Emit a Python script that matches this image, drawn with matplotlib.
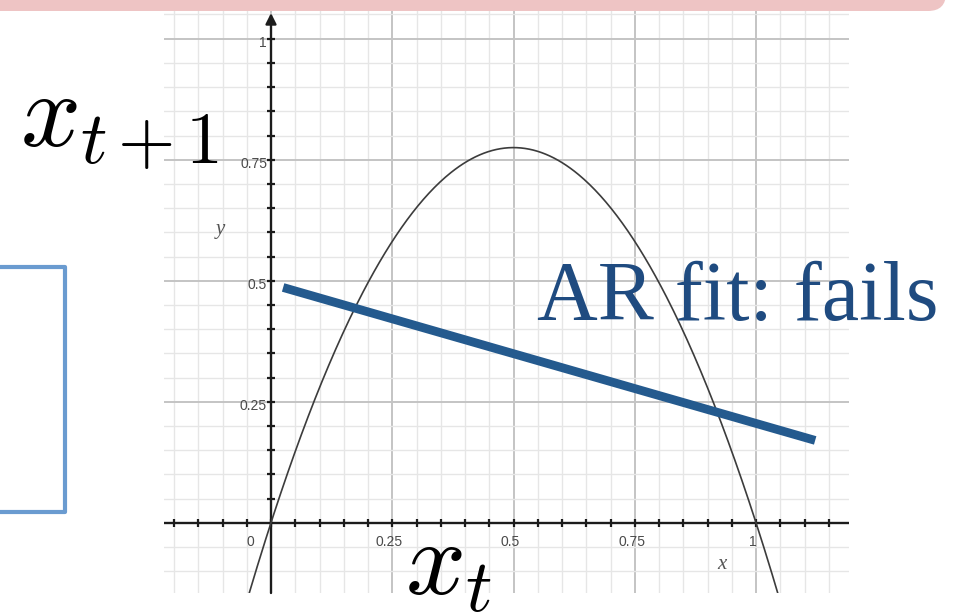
import numpy as np
import matplotlib
matplotlib.use("Agg")
import matplotlib.pyplot as plt
from matplotlib.patches import FancyBboxPatch, Rectangle
from matplotlib.ticker import MultipleLocator

plt.rcParams['mathtext.fontset'] = 'cm'

# ---- data -------------------------------------------------------------
r_logistic = 3.1                      # logistic map x_{t+1} = r x_t (1 - x_t)
ar_fit_x = [0.025, 1.122]             # linear AR(1) fit, end points
ar_fit_y = [0.486, 0.170]
x_tick_values = [-0.25, 0.0, 0.25, 0.5, 0.75, 1.0]
x_tick_labels = ['-0.25', '0', '0.25', '0.5', '0.75', '1']
y_tick_values = [0.25, 0.5, 0.75, 1.0]
y_tick_labels = ['0.25', '0.5', '0.75', '1']

# ---- figure -----------------------------------------------------------
W, H = 956, 616
fig = plt.figure(figsize=(W / 100, H / 100), dpi=100)

# decoration layer in pixel units
bg = fig.add_axes([0, 0, 1, 1])
bg.set_xlim(0, W)
bg.set_ylim(H, 0)
bg.axis('off')
bg.add_patch(FancyBboxPatch((-40, -40), 986, 51,
                            boxstyle="round,pad=0,rounding_size=18",
                            fc='#eec4c4', ec='none'))
bg.add_patch(Rectangle((-20, 267), 85, 245, fill=False,
                       ec='#6a9bd0', lw=3.0, joinstyle='round'))

# graph panel
x0_px, y0_px, ux, uy = 271, 522.7, 485, 484
left_px, right_px, top_px, bot_px = 164, 849, 11, 593
ax = fig.add_axes([left_px / W, 1 - bot_px / H,
                   (right_px - left_px) / W, (bot_px - top_px) / H])
ax.set_xlim((left_px - x0_px) / ux, (right_px - x0_px) / ux)
ax.set_ylim((y0_px - bot_px) / uy, (y0_px - top_px) / uy)
ax.set_facecolor('white')
for s in ax.spines.values():
    s.set_visible(False)
ax.xaxis.set_major_locator(MultipleLocator(0.25))
ax.yaxis.set_major_locator(MultipleLocator(0.25))
ax.xaxis.set_minor_locator(MultipleLocator(0.05))
ax.yaxis.set_minor_locator(MultipleLocator(0.05))
ax.grid(which='minor', color='#e6e6e6', lw=1.0)
ax.grid(which='major', color='#c4c4c4', lw=1.4)
ax.tick_params(which='both', length=0, labelbottom=False, labelleft=False)
ax.set_axisbelow(True)

xlo, xhi = ax.get_xlim()
ylo, yhi = ax.get_ylim()

# axes through the origin
ax.axhline(0, color='#1c1c1c', lw=1.7, zorder=3)
ax.annotate('', xy=(0, (y0_px - 13) / uy), xytext=(0, ylo),
            arrowprops=dict(arrowstyle='-|>', lw=1.7, color='#1c1c1c',
                            mutation_scale=16, shrinkA=0, shrinkB=0),
            zorder=3)

# small tick marks along the axes
minor = np.round(np.arange(-0.2, 1.2, 0.05), 2)
ax.plot(minor, np.zeros_like(minor), ls='none', marker='|', ms=6,
        mew=1.6, color='#1c1c1c', zorder=3)
yminor = minor[(minor > 0) & (minor <= 1.0)]
ax.plot(np.zeros_like(yminor), yminor, ls='none', marker='_', ms=6,
        mew=1.6, color='#1c1c1c', zorder=3)

# tick labels
for v, lbl in zip(x_tick_values, x_tick_labels):
    xv = -0.043 if v == 0 else v - 0.006
    ax.text(xv, -0.04, lbl, ha='center', va='center', fontsize=10,
            color='#4a4a4a', family='Liberation Sans', clip_on=True)
for v, lbl in zip(y_tick_values, y_tick_labels):
    ax.text(-0.008, v - 0.008, lbl, ha='right', va='center', fontsize=10,
            color='#4a4a4a', family='Liberation Sans')
ax.text(-0.105, 0.605, 'y', fontsize=15, style='italic',
        family='Liberation Serif', color='#555555', ha='center', va='center')
ax.text(0.93, -0.087, 'x', fontsize=15, style='italic',
        family='Liberation Serif', color='#555555', ha='center', va='center')

# logistic map curve
xs = np.linspace(xlo, xhi, 500)
ax.plot(xs, r_logistic * xs * (1 - xs), color='#3c3c3c', lw=1.2, zorder=4)

# linear AR fit
ax.plot(ar_fit_x, ar_fit_y, color='#245a8e', lw=6.3,
        solid_capstyle='butt', zorder=5, clip_on=False)

# annotations
fig.text(537 / W, 1 - 320 / H, 'AR fit: fails', family='Liberation Serif',
         fontsize=60.5, color='#1f4b80', va='baseline', ha='left')
fig.text(20 / W, 1 - 146 / H, r'$x_{t\,{+}\,1}$', fontsize=76,
         va='baseline', ha='left')
fig.text(405 / W, 1 - 595 / H, r'$x_t$', fontsize=76,
         va='baseline', ha='left')

fig.savefig('out.png', dpi=100)
